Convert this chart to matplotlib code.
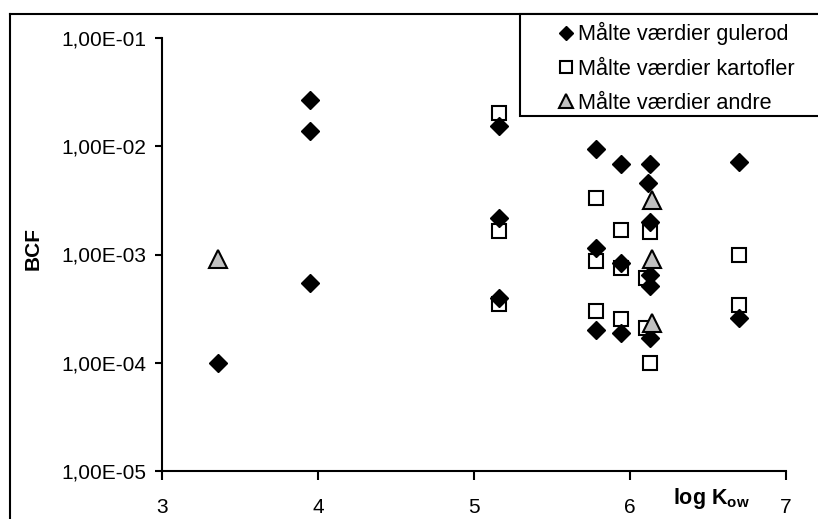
import numpy as np
import matplotlib.pyplot as plt
from matplotlib.ticker import FuncFormatter, FixedLocator, NullLocator
from matplotlib.lines import Line2D
from matplotlib.patches import Rectangle

plt.rcParams['font.family'] = ['Liberation Sans', 'DejaVu Sans']
plt.rcParams['mathtext.fontset'] = 'custom'
plt.rcParams['mathtext.rm'] = 'Liberation Sans'
plt.rcParams['mathtext.bf'] = 'Liberation Sans:bold'

# log Kow / BCF, gulerod
x_gulerod = [3.36, 3.95, 3.95, 3.95, 5.16, 5.16, 5.16,
             5.78, 5.78, 5.78, 5.94, 5.94, 5.94,
             6.13, 6.115, 6.13, 6.13, 6.13, 6.13, 6.70, 6.70]
bcf_gulerod = [1.0e-4, 2.7e-2, 1.38e-2, 5.5e-4, 1.54e-2, 2.19e-3, 3.97e-4,
               9.4e-3, 1.15e-3, 2.02e-4, 6.8e-3, 8.4e-4, 1.88e-4,
               6.8e-3, 4.6e-3, 2.0e-3, 6.5e-4, 5.1e-4, 1.7e-4, 7.2e-3, 2.6e-4]

# kartofler
x_kartofler = [5.16, 5.16, 5.16, 5.78, 5.78, 5.78, 5.94, 5.94, 5.94,
               6.13, 6.10, 6.10, 6.13, 6.70, 6.70]
bcf_kartofler = [2.05e-2, 1.64e-3, 3.52e-4, 3.35e-3, 8.7e-4, 2.99e-4,
                 1.7e-3, 7.5e-4, 2.55e-4, 1.6e-3, 6.1e-4, 2.1e-4, 1.0e-4,
                 1.0e-3, 3.44e-4]

# andre
x_andre = [3.36, 6.14, 6.14, 6.14]
bcf_andre = [9.0e-4, 3.2e-3, 9.0e-4, 2.35e-4]

labels = ['Målte værdier gulerod', 'Målte værdier kartofler', 'Målte værdier andre']
x_ticks = [3, 4, 5, 6, 7]
y_ticks = [1e-5, 1e-4, 1e-3, 1e-2, 1e-1]

fig = plt.figure(figsize=(8.18, 5.19), dpi=100)
ax = fig.add_axes([162/818, 48/519, 624/818, 433/519])

ax.plot(x_kartofler, bcf_kartofler, ls='none', marker='s', ms=10.7,
        mfc='white', mec='black', mew=1.5, label=labels[1], zorder=3)
ax.plot(x_gulerod, bcf_gulerod, ls='none', marker='D', ms=9.6,
        mfc='black', mec='black', mew=1, label=labels[0], zorder=4)
ax.plot(x_andre, bcf_andre, ls='none', marker='^', ms=12.5,
        mfc='#c0c0c0', mec='black', mew=1.5, label=labels[2], zorder=5)

ax.set_yscale('log')
ax.set_xlim(3, 7)
ax.set_ylim(1e-5, 1e-1)
ax.xaxis.set_major_locator(FixedLocator(x_ticks))
ax.yaxis.set_major_locator(FixedLocator(y_ticks))
ax.yaxis.set_minor_locator(NullLocator())
ax.yaxis.set_major_formatter(FuncFormatter(lambda v, p: f"{v:.2E}".replace('.', ',')))

for s in ['top', 'right']:
    ax.spines[s].set_visible(False)
for s in ['left', 'bottom']:
    ax.spines[s].set_linewidth(1.5)
ax.tick_params(axis='x', length=6.5, width=1.5, pad=13, labelsize=15)
ax.tick_params(axis='y', length=5, width=1.5, pad=6.5, labelsize=15)

ax.set_ylabel('BCF', fontsize=15, fontweight='bold')
ax.yaxis.set_label_coords(-0.191, 0.515)
ax.set_xlabel(r'log K$_{\mathbf{ow}}$', fontsize=15.5, fontweight='bold')
ax.xaxis.set_label_coords(0.881, -0.035)

# outer chart frame (left and top edges)
fig.add_artist(Line2D([10/818, 10/818], [0, 1 - 14/519], color='black', lw=1.5,
                      transform=fig.transFigure, zorder=3))
fig.add_artist(Line2D([10/818, 1], [1 - 14/519, 1 - 14/519], color='black', lw=1.5,
                      transform=fig.transFigure, zorder=3))

# legend box
fig.add_artist(Rectangle((520/818, 1 - 116/519), 0.5, 102/519, transform=fig.transFigure,
                         facecolor='white', edgecolor='black', lw=1.5, zorder=3))
h, l = ax.get_legend_handles_labels()
order = [1, 0, 2]
leg = fig.legend([h[i] for i in order], [l[i] for i in order],
                 loc='upper left', bbox_to_anchor=(559/818, 1 - 22/519),
                 frameon=False, fontsize=15.6, borderpad=0, borderaxespad=0,
                 handlelength=0.6, handletextpad=0.3, labelspacing=0.62,
                 markerscale=0.75)
leg.set_zorder(6)

fig.savefig('out.png', dpi=100)
